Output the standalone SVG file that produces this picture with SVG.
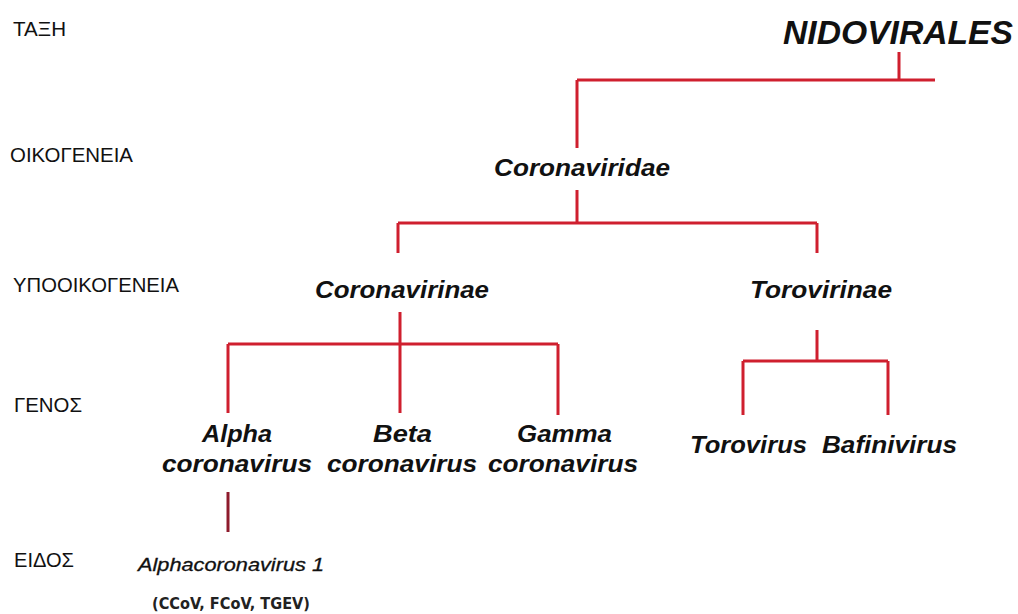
<svg xmlns="http://www.w3.org/2000/svg" width="1018" height="614" viewBox="0 0 1018 614">
<style>
.lbl{font-family:"Liberation Sans",Arial,sans-serif;font-size:21px;fill:#111}
.tx{font-family:"Liberation Sans",Arial,sans-serif;font-weight:bold;font-style:italic;font-size:24px;fill:#111}
.sp{font-family:"Liberation Sans",Arial,sans-serif;font-style:italic;font-size:18px;fill:#111;stroke:#111;stroke-width:0.3}
.ab{font-family:"DejaVu Sans",Verdana,sans-serif;font-weight:bold;font-size:15px;fill:#222}
.ln{stroke:#cf1f2e;stroke-width:3;fill:none}
.ln2{stroke:#8e1b2c;stroke-width:3;fill:none}
</style>
<rect width="1018" height="614" fill="#fff"/>
<g id="rank-labels">
<text class="lbl" x="13" y="36" textLength="53" lengthAdjust="spacingAndGlyphs">ΤΑΞΗ</text>
<text class="lbl" x="10" y="162" textLength="123" lengthAdjust="spacingAndGlyphs">ΟΙΚΟΓΕΝΕΙΑ</text>
<text class="lbl" x="13" y="292" textLength="166" lengthAdjust="spacingAndGlyphs">ΥΠΟΟΙΚΟΓΕΝΕΙΑ</text>
<text class="lbl" x="14" y="412" textLength="68" lengthAdjust="spacingAndGlyphs">ΓΕΝΟΣ</text>
<text class="lbl" x="14" y="567" textLength="60" lengthAdjust="spacingAndGlyphs">ΕΙΔΟΣ</text>
</g>
<g id="connectors">
<path class="ln" d="M899 52V80M577 80H935M577 80V148"/>
<path class="ln" d="M577 190V223M398 223H817M398 223V253M817 223V253"/>
<path class="ln" d="M400 312V413M228 344H558M228 344V413M558 344V415"/>
<path class="ln" d="M817 330V361M743 361H888M743 361V415M888 361V415"/>
<path class="ln2" d="M228 492V532"/>
</g>
<g id="nidovirales"><text class="tx" x="783" y="44" style="font-size:33px" textLength="230" lengthAdjust="spacingAndGlyphs">NIDOVIRALES</text></g>
<g id="coronaviridae"><text class="tx" x="494" y="176" style="font-size:23px" textLength="176" lengthAdjust="spacingAndGlyphs">Coronaviridae</text></g>
<g id="coronavirinae"><text class="tx" x="315" y="298" style="font-size:23px" textLength="174" lengthAdjust="spacingAndGlyphs">Coronavirinae</text></g>
<g id="torovirinae"><text class="tx" x="750" y="298" style="font-size:23px" textLength="142" lengthAdjust="spacingAndGlyphs">Torovirinae</text></g>
<g id="alphacoronavirus">
<text class="tx" x="202" y="442" textLength="70" lengthAdjust="spacingAndGlyphs">Alpha</text>
<text class="tx" x="162" y="472" textLength="150" lengthAdjust="spacingAndGlyphs">coronavirus</text>
</g>
<g id="betacoronavirus">
<text class="tx" x="373" y="442" textLength="59" lengthAdjust="spacingAndGlyphs">Beta</text>
<text class="tx" x="327" y="472" textLength="150" lengthAdjust="spacingAndGlyphs">coronavirus</text>
</g>
<g id="gammacoronavirus">
<text class="tx" x="517" y="442" textLength="95" lengthAdjust="spacingAndGlyphs">Gamma</text>
<text class="tx" x="488" y="472" textLength="150" lengthAdjust="spacingAndGlyphs">coronavirus</text>
</g>
<g id="torovirus"><text class="tx" x="690" y="453" textLength="117" lengthAdjust="spacingAndGlyphs">Torovirus</text></g>
<g id="bafinivirus"><text class="tx" x="822" y="453" textLength="135" lengthAdjust="spacingAndGlyphs">Bafinivirus</text></g>
<g id="alphacoronavirus1">
<text class="sp" x="138" y="571" textLength="186" lengthAdjust="spacingAndGlyphs">Alphacoronavirus 1</text>
<text class="ab" x="152" y="609" textLength="158" lengthAdjust="spacingAndGlyphs">(CCoV, FCoV, TGEV)</text>
</g>
</svg>
